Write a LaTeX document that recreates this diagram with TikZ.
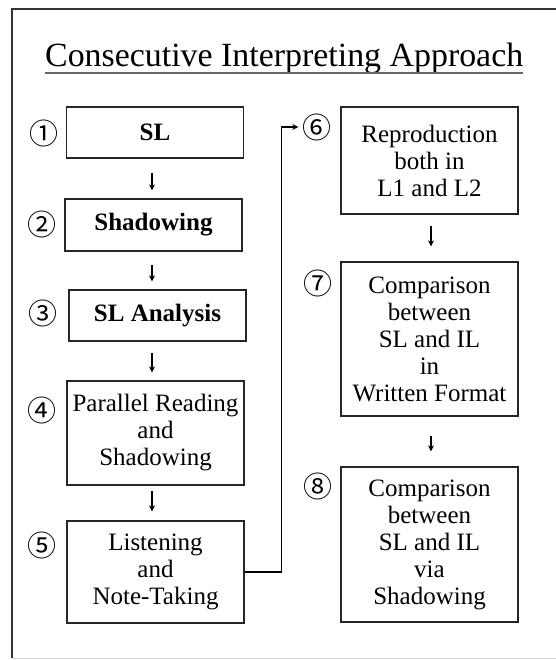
\documentclass[tikz,border=0pt]{standalone}
\usepackage{fontspec}
\setmainfont{Liberation Serif}
\newfontfamily\cjk{Noto Sans CJK JP}
\usetikzlibrary{arrows.meta}
\begin{document}
\begin{tikzpicture}[x=1pt,y=-1pt,
 box/.style={draw=black!85, line width=1.3pt, inner sep=0pt, minimum width=177pt, align=center, font=\fontsize{25}{27}\selectfont},
 boldbox/.style={box, font=\fontsize{25}{27}\selectfont\bfseries},
 num/.style={font=\cjk\fontsize{29}{29}\selectfont, inner sep=0pt},
 arr/.style={line width=1.3pt, -{Stealth[length=6pt,width=6pt]}},
]
\useasboundingbox (0,0) rectangle (555,660);
\fill[white] (0,0) rectangle (555,660);
\draw[line width=1.5pt, black!80] (560,9) -- (12,9) -- (12,658);
\draw[line width=1pt, black!15] (12,658) -- (560,658);

\node[inner sep=0pt, anchor=base west] (title) at (45,67) {\resizebox{478pt}{!}{\fontsize{34}{40}\selectfont Consecutive Interpreting Approach}};
\draw[line width=1.6pt, black!60] ([yshift=-6pt]title.base west) -- ([yshift=-6pt]title.base east);

\node[boldbox, minimum height=51pt] (b1) at (155,132.5) {SL};
\node[boldbox, minimum height=52pt] (b2) at (153.5,225) {Shadowing};
\node[boldbox, minimum height=51pt] (b3) at (157.5,315.5) {SL Analysis};
\node[box, minimum height=104pt] (b4) at (155.5,433) {Parallel Reading\\and\\Shadowing};
\node[box, minimum height=102pt] (b5) at (155.5,572) {Listening\\and\\Note-Taking};
\node[box, minimum height=107pt] (b6) at (429.5,160.5) {Reproduction\\both in\\L1 and L2};
\node[box, minimum height=154pt] (b7) at (429.5,339) {Comparison\\between\\SL and IL\\in\\Written Format};
\node[box, minimum height=155pt] (b8) at (429.5,544.5) {Comparison\\between\\SL and IL\\via\\Shadowing};

\node[num] (n1) at (44,133) {①};
\node[num] (n2) at (42,224) {②};
\node[num] (n3) at (43,313) {③};
\node[num] (n4) at (42,410) {④};
\node[num] (n5) at (42,545) {⑤};
\node[num] (n6) at (317,127) {⑥};
\node[num] (n7) at (318,283) {⑦};
\node[num] (n8) at (318,486) {⑧};

\coordinate (ax) at (152,0);
\coordinate (bx) at (431,0);
\draw[arr, shorten <=14pt, shorten >=8pt] (b1.south -| ax) -- (b2.north -| ax);
\draw[arr, shorten <=13pt, shorten >=8pt] (b2.south -| ax) -- (b3.north -| ax);
\draw[arr, shorten <=11pt, shorten >=8pt] (b3.south -| ax) -- (b4.north -| ax);
\draw[arr, shorten <=5pt, shorten >=9pt] (b4.south -| ax) -- (b5.north -| ax);
\draw[arr, shorten <=11pt, shorten >=15pt] (b6.south -| bx) -- (b7.north -| bx);
\draw[arr, shorten <=19pt, shorten >=15pt] (b7.south -| bx) -- (b8.north -| bx);
\draw[arr, shorten >=4pt] (b5.east) -- ++(37,0) |- (n6.west);
\end{tikzpicture}
\end{document}
